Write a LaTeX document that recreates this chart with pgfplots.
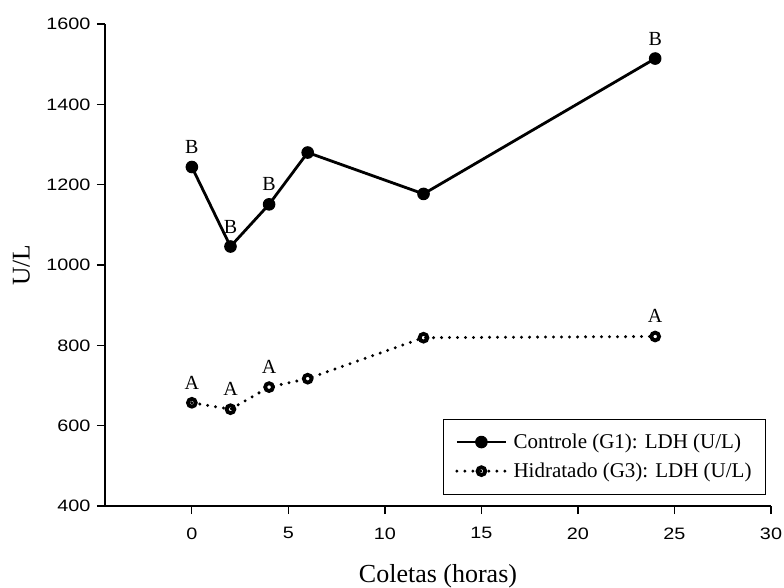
\documentclass[border=0pt]{standalone}
\usepackage{fontspec}
\setmainfont{Liberation Serif}
\newfontfamily\arialfont[FakeStretch=1.2]{Liberation Sans}
\usepackage{pgfplots}
\usepackage{pgfplotstable}
\pgfplotsset{compat=1.18}

% LDH (U/L) por tempo de coleta
\pgfplotstableread{
x y
0 1244
2 1046
4 1151
6 1280
12 1177
24 1514
}\controle
\pgfplotstableread{
x y
0 657
2 641
4 696
6 717
12 819
24 822
}\hidratado
% letras de significancia
\pgfplotstableread{
x y lab
0 1244 B
2 1046 B
4 1151 B
24 1514 B
}\letrasB
\pgfplotstableread{
x y lab
0 657 A
2 641 A
4 696 A
24 822 A
}\letrasA

\begin{document}
\begin{tikzpicture}
\path[use as bounding box] (-105pt,-81pt) rectangle (679pt,506pt);
\begin{axis}[
  at={(0,0)}, anchor=south west,
  scale only axis, width=666pt, height=482pt,
  xmin=-4.5, xmax=30, ymin=400, ymax=1600,
  xtick={0,5,...,30}, ytick={400,600,...,1600},
  axis x line=bottom, axis y line=left,
  axis line style={-, line width=1.2pt, black},
  tick align=outside, major tick length=8pt,
  tick style={line width=1.2pt, black},
  ticklabel style={font=\arialfont\fontsize{16.5}{16.5}\selectfont},
  /pgf/number format/assume math mode=true,
  /pgf/number format/1000 sep={},
  xticklabel style={yshift=-10pt},
  yticklabel style={xshift=-3pt},
  xlabel={Coletas (horas)}, ylabel={U/L},
  xlabel style={at={(axis description cs:0.5,-0.159)}, anchor=base,
    font=\fontsize{26}{26}\selectfont},
  ylabel style={at={(axis description cs:-0.113,0.5)}, anchor=base,
    font=\fontsize{25.5}{25.5}\selectfont},
  clip=false,
  legend style={at={(0.9925,0.0235)}, anchor=south east,
    draw=black, line width=1pt, font=\fontsize{21}{24}\selectfont,
    inner xsep=12pt, inner ysep=13pt, row sep=9pt,
    /tikz/every odd column/.append style={column sep=4pt}},
  legend cell align=left,
  legend image code/.code={%
    \draw[#1, mark repeat=2, mark phase=2]
      plot coordinates {(0pt,0pt) (24.5pt,0pt) (49pt,0pt)};},
  every node near coord/.append style={anchor=base, yshift=13.5pt,
    font=\fontsize{20}{20}\selectfont, black, inner sep=0pt},
]
\addplot[black, line width=2.8pt, mark=*, mark size=5.8pt,
  mark options={solid, fill=black, line width=1pt}]
  table {\controle};
\addlegendentry{Controle (G1): LDH (U/L)}
\addplot[black, line width=3.3pt, line cap=round, dash pattern=on 0pt off 8pt,
  mark=o, mark size=3.9pt,
  mark options={solid, fill=white, line width=3.8pt}]
  table {\hidratado};
\addlegendentry{Hidratado (G3): LDH (U/L)}
\addplot[draw=none, forget plot, nodes near coords,
  point meta=explicit symbolic] table[meta=lab] {\letrasB};
\addplot[draw=none, forget plot, nodes near coords,
  point meta=explicit symbolic] table[meta=lab] {\letrasA};
\end{axis}
\end{tikzpicture}
\end{document}
